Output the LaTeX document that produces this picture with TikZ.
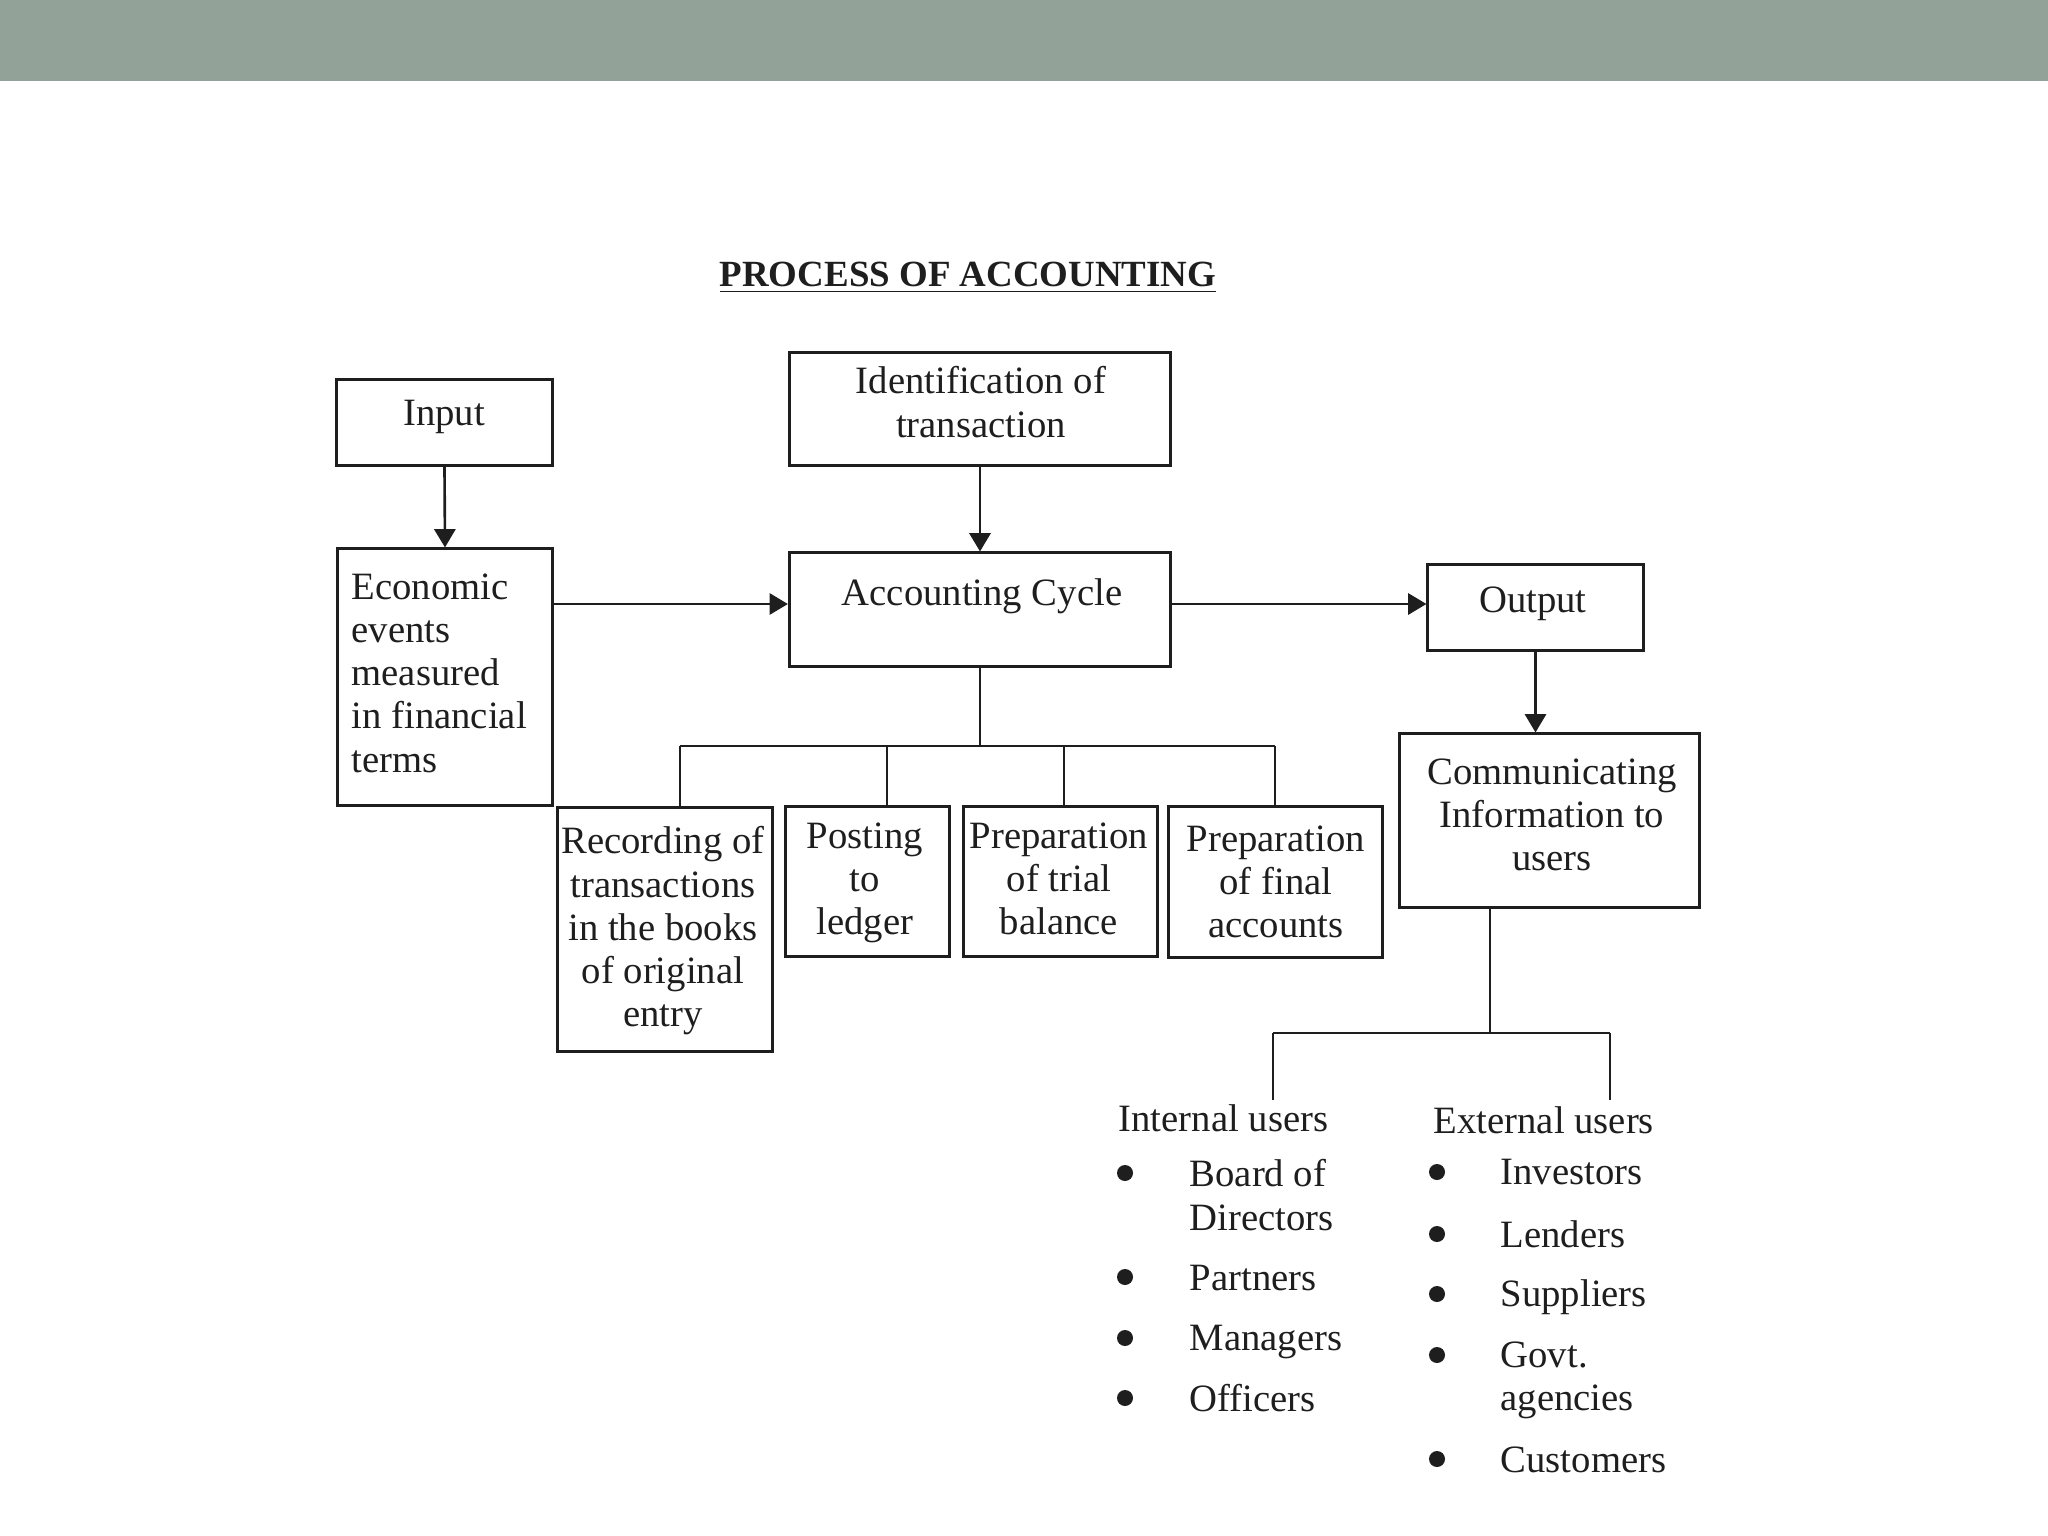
\documentclass[tikz,border=0pt]{standalone}
\usepackage{fontspec}
\setmainfont{Liberation Serif}
\usetikzlibrary{arrows.meta}
\definecolor{band}{RGB}{147,162,153}
\definecolor{ink}{RGB}{30,30,30}
\begin{document}
\begin{tikzpicture}[x=0.01cm,y=-0.01cm,
 box/.style={draw=ink, line width=0.85pt, inner sep=0pt},
 txt/.style={inner sep=0pt, align=center, font=\fontsize{11}{12.3}\selectfont, text=ink},
 ltxt/.style={txt, align=left, anchor=west},
 conn/.style={draw=ink, line width=0.75pt},
 arr/.style={conn, -{Triangle[length=5.2pt,width=6pt]}},
 dot/.style={circle, fill=ink, inner sep=0pt, minimum size=0.16cm}]
\useasboundingbox (0,0) rectangle (2048,1536);
\fill[band] (0,0) rectangle (2048,81);

\node[inner sep=0pt, anchor=base, text=ink, font=\fontsize{10.5}{12}\selectfont\bfseries] (title) at (968,286) {\underline{PROCESS OF ACCOUNTING}};

% boxes
\node[box, minimum width=2.15cm, minimum height=0.86cm] (input) at (444.5,422.5) {};
\node[box, minimum width=3.81cm, minimum height=1.13cm] (ident) at (980,409) {};
\node[box, minimum width=2.15cm, minimum height=2.56cm] (eco) at (445,677) {};
\node[box, minimum width=3.81cm, minimum height=1.13cm] (acc) at (980,609.5) {};
\node[box, minimum width=2.15cm, minimum height=0.85cm] (out) at (1535.5,607.5) {};
\node[box, minimum width=2.99cm, minimum height=1.73cm] (comm) at (1549.5,820.5) {};
\node[box, minimum width=2.15cm, minimum height=2.44cm] (rec) at (665,929.5) {};
\node[box, minimum width=1.63cm, minimum height=1.49cm] (post) at (867.5,881.5) {};
\node[box, minimum width=1.93cm, minimum height=1.49cm] (trial) at (1060.5,881.5) {};
\node[box, minimum width=2.13cm, minimum height=1.50cm] (final) at (1275.5,882) {};

% box texts
\node[txt] (tinput) at (444,417) {Input};
\node[txt] (tident) at (981,402) {Identification of\\transaction};
\node[ltxt] (teco) at (351,673) {Economic\\events\\measured\\in financial\\terms};
\node[txt] (tacc) at (982,596) {Accounting Cycle};
\node[txt] (tout) at (1533,604) {Output};
\node[txt] (tcomm) at (1552,815) {Communicating\\Information to\\users};
\node[txt] (trec) at (663,931) {Recording of\\transactions\\in the books\\of original\\entry};
\node[txt] (tpost) at (865,883) {Posting\\to\\ledger};
\node[txt] (ttrial) at (1059,879) {Preparation\\of trial\\balance};
\node[txt] (tfinal) at (1276,882) {Preparation\\of final\\accounts};

% arrows
\draw[arr] (input.south) -- (eco.north);
\draw[arr] (ident.south) -- (acc.north);
\draw[arr] ([yshift=0.055cm]eco.east |- acc.west) -- ([yshift=0.055cm]acc.west);
\draw[arr] ([yshift=0.055cm]acc.east) -- ([yshift=0.055cm]acc.east -| out.west);
\draw[arr] (out.south) -- (out.south |- comm.north);

% accounting cycle tree
\coordinate (aj) at (980,746);
\coordinate (b1) at (680,746);
\coordinate (b2) at (887,746);
\coordinate (b3) at (1064,746);
\coordinate (b4) at (1275,746);
\draw[conn] (acc.south) -- (aj);
\draw[conn] (b1) -- (b4);
\draw[conn] (b1) -- (b1 |- rec.north);
\draw[conn] (b2) -- (b2 |- post.north);
\draw[conn] (b3) -- (b3 |- trial.north);
\draw[conn] (b4) -- (b4 |- final.north);

% users tree
\coordinate (cj) at (1490,1033);
\coordinate (cl) at (1273,1033);
\coordinate (cr) at (1610,1033);
\coordinate (cld) at (1273,1100);
\coordinate (crd) at (1610,1100);
\draw[conn] (comm.south -| cj) -- (cj);
\draw[conn] (cl) -- (cr);
\draw[conn] (cl) -- (cld);
\draw[conn] (cr) -- (crd);

\node[ltxt] (tint) at (1118,1118) {Internal users};
\node[ltxt] (text) at (1433,1120) {External users};

\node[dot] (d1) at (1125,1173) {};
\node[dot] (d2) at (1125,1277) {};
\node[dot] (d3) at (1125,1338) {};
\node[dot] (d4) at (1125,1398) {};
\node[ltxt] (i1) at (1189,1195) {Board of\\Directors};
\node[ltxt] (i2) at (1189,1278) {Partners};
\node[ltxt] (i3) at (1189,1342) {Managers};
\node[ltxt] (i4) at (1189,1398) {Officers};

\node[dot] (e1) at (1437,1172) {};
\node[dot] (e2) at (1437,1234) {};
\node[dot] (e3) at (1437,1294) {};
\node[dot] (e4) at (1437,1355) {};
\node[dot] (e5) at (1437,1459) {};
\node[ltxt] (x1) at (1500,1172) {Investors};
\node[ltxt] (x2) at (1500,1234) {Lenders};
\node[ltxt] (x3) at (1500,1297) {Suppliers};
\node[ltxt] (x4) at (1500,1380) {Govt.\\agencies};
\node[ltxt] (x5) at (1500,1460) {Customers};
\end{tikzpicture}
\end{document}
